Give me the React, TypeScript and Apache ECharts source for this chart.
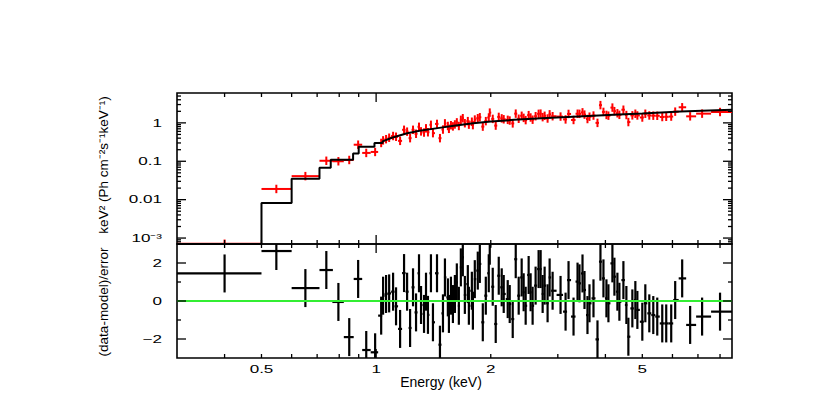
import React, { useEffect, useRef } from "react";
import * as echarts from "echarts";

const FONT = "'Liberation Sans', Arial, Helvetica, sans-serif";

// axis ranges
const X_MIN = 0.3;
const X_MAX = 8.6;
const Y_MIN = 7e-4;
const Y_MAX = 6;
const R_MIN = -3;
const R_MAX = 3;

// data points (bin centres, keV)
const energy = [
  0.4, 0.547, 0.652, 0.74, 0.796, 0.85, 0.897, 0.942, 0.994, 1.031,
  1.043, 1.062, 1.082, 1.108, 1.128, 1.156, 1.184, 1.206, 1.228, 1.25,
  1.273, 1.296, 1.312, 1.336, 1.352, 1.368, 1.393, 1.41, 1.445, 1.471,
  1.498, 1.516, 1.543, 1.553, 1.572, 1.591, 1.61, 1.629, 1.649, 1.669,
  1.689, 1.71, 1.741, 1.752, 1.784, 1.795, 1.816, 1.849, 1.872, 1.906,
  1.941, 1.976, 1.988, 2.024, 2.061, 2.099, 2.137, 2.163, 2.216, 2.243,
  2.284, 2.326, 2.368, 2.411, 2.44, 2.47, 2.515, 2.545, 2.576, 2.623,
  2.671, 2.704, 2.737, 2.77, 2.82, 2.855, 2.907, 3.05, 3.144, 3.201,
  3.299, 3.38, 3.42, 3.483, 3.525, 3.589, 3.633, 3.722, 3.813, 3.882,
  3.953, 4.025, 4.074, 4.173, 4.224, 4.301, 4.353, 4.46, 4.541, 4.596,
  4.708, 4.794, 4.853, 5.0, 5.092, 5.216, 5.343, 5.473, 5.641, 5.778,
  5.955, 6.1, 6.363, 6.677, 7.178, 8.0,
];

// keV^2 (Ph cm^-2 s^-1 keV^-1)
const flux = [
  7.1e-4, 0.019, 0.041, 0.103, 0.1, 0.108, 0.27, 0.165, 0.175, 0.3,
  0.35, 0.376, 0.41, 0.455, 0.435, 0.34, 0.66, 0.59, 0.4, 0.66,
  0.52, 0.79, 0.6, 0.56, 0.72, 0.57, 0.89, 0.54, 0.94, 0.4,
  0.67, 0.97, 0.83, 0.7, 0.87, 0.81, 0.91, 1.03, 0.83, 1.2,
  1.32, 0.98, 1.11, 0.9, 1.07, 0.875, 1.22, 1.32, 1.4, 0.8,
  1.11, 1.38, 1.85, 1.27, 0.85, 1.43, 1.31, 1.24, 1.2, 1.15,
  0.97, 1.74, 1.28, 1.53, 1.35, 1.18, 1.59, 1.38, 1.21, 1.49,
  1.72, 1.74, 1.41, 1.53, 1.3, 1.67, 1.49, 1.46, 1.23, 1.71,
  1.19, 1.73, 1.72, 1.88, 1.64, 1.26, 1.45, 1.55, 1.0, 2.9,
  1.93, 1.61, 1.54, 2.5, 2.02, 1.78, 1.62, 2.2, 1.6, 1.05,
  1.57, 1.73, 1.56, 1.38, 1.73, 1.56, 1.54, 1.53, 1.42, 1.44,
  1.46, 1.96, 2.55, 1.48, 1.74, 1.92,
];

// (data-model)/error
const resid = [
  1.45, 2.63, 0.68, 1.63, -0.05, -1.9, 1.16, -2.58, -2.7, -0.77,
  0.28, 0.37, 0.4, 0.49, -0.28, -1.47, 1.47, 0.49, -1.42, 0.72,
  -0.6, 1.46, -0.21, -0.68, 0.49, -0.73, 1.46, -1.12, 1.46, -2.3,
  -0.65, 1.24, 0.19, -0.68, 0.28, -0.16, 0.37, 0.98, -0.25, 1.77,
  2.3, 0.32, 0.89, -0.25, 0.54, -0.51, 1.15, 1.6, 1.95, -1.12,
  0.28, 1.46, 2.91, 0.75, -1.21, 1.33, 0.72, 0.37, 0.1, -0.16,
  -0.95, 2.2, 0.28, 1.24, 0.46, -0.25, 1.37, 0.46, -0.25, 0.81,
  1.68, 1.68, 0.37, 0.81, -0.12, 1.24, 0.54, 0.32, -0.56, 1.1,
  -0.82, 1.02, 0.93, 1.45, 0.58, -0.74, -0.12, 0.14, -2.02, 2.07,
  1.19, 0.14, -0.12, 1.98, 1.28, 0.49, -0.04, 1.1, -0.21, -1.88,
  -0.39, 0.05, -0.47, -1.09, -0.12, -0.65, -0.74, -0.82, -1.18, -1.18,
  -1.18, 0.05, 1.19, -1.26, -0.82, -0.56,
];
const residErr = 1;
const fluxErrDex = 0.11;
// explicit bin edges for the widest low-energy bins
const fixedEdges = [0.3, 0.5, 0.6, 0.71, 0.77];

// model: low-energy step bins, then the smooth continuum
const modelBinEdges = [0.3, 0.5, 0.6, 0.71, 0.76, 0.87, 0.9, 0.99, 1.04];
const modelBinValues = [7e-4, 0.0082, 0.035, 0.068, 0.11, 0.16, 0.24, 0.3];
const modelCurveE = [1.04, 1.1, 1.2, 1.3, 1.45, 1.6, 1.8, 2.0, 2.3, 2.8, 3.5, 4.2, 5.0, 6.3, 7.5, 8.6];
const modelCurveV = [0.33, 0.41, 0.53, 0.62, 0.73, 0.84, 0.98, 1.08, 1.2, 1.33, 1.48, 1.62, 1.76, 1.97, 2.1, 2.2];

// ticks and labels
const xMajorTicks = [1];
const xMinorTicks = [0.4, 0.5, 0.6, 0.7, 0.8, 0.9, 2, 3, 4, 5, 6, 7, 8];
const xLabelValues = [0.5, 1, 2, 5];
const xLabelTexts = ["0.5", "1", "2", "5"];
const yTopMajorTicks = [0.001, 0.01, 0.1, 1];
const yTopMinorTicks = [
  8e-4, 9e-4, 0.002, 0.003, 0.004, 0.005, 0.006, 0.007, 0.008, 0.009,
  0.02, 0.03, 0.04, 0.05, 0.06, 0.07, 0.08, 0.09,
  0.2, 0.3, 0.4, 0.5, 0.6, 0.7, 0.8, 0.9, 2, 3, 4, 5,
];
const yTopLabelValues = [1, 0.1, 0.01, 0.001];
const yTopLabelTexts = ["1", "0.1", "0.01", "10\u207B\u00B3"];
const yResMajorTicks = [-2, 0, 2];
const yResMinorTicks = [-1, 1];
const yResLabelValues = [2, 0, -2];
const yResLabelTexts = ["2", "0", "\u22122"];

const yTopName = "keV\u00B2 (Ph cm\u207B\u00B2s\u207B\u00B9keV\u207B\u00B9)";
const yResName = "(data-model)/error";
const xName = "Energy (keV)";

function binEdges(i: number): [number, number] {
  const n = energy.length;
  const fixedN = fixedEdges.length - 1;
  const lo = i < fixedN ? fixedEdges[i] : Math.sqrt(energy[i - 1] * energy[i]);
  const hi = i < fixedN ? fixedEdges[i + 1] : i === n - 1 ? X_MAX : Math.sqrt(energy[i] * energy[i + 1]);
  return [lo, hi];
}

function crossSeries(gridIdx: number, data: number[][], color: string, z: number, width: number) {
  return {
    type: "custom",
    xAxisIndex: gridIdx,
    yAxisIndex: gridIdx,
    silent: true,
    clip: true,
    z,
    encode: { x: [0, 1, 2], y: [3, 4, 5] },
    data,
    renderItem: (params: any, api: any) => {
      const a = api.coord([api.value(0), api.value(3)]);
      const b = api.coord([api.value(1), api.value(3)]);
      const c = api.coord([api.value(2), api.value(4)]);
      const d = api.coord([api.value(2), api.value(5)]);
      const st = { stroke: color, lineWidth: width };
      return {
        type: "group",
        children: [
          { type: "line", shape: { x1: a[0], y1: a[1], x2: b[0], y2: b[1] }, style: st },
          { type: "line", shape: { x1: c[0], y1: c[1], x2: d[0], y2: d[1] }, style: st },
        ],
      };
    },
  };
}

function tickSeries(gridIdx: number, items: number[][]) {
  return {
    type: "custom",
    xAxisIndex: gridIdx,
    yAxisIndex: gridIdx,
    silent: true,
    z: 20,
    encode: { x: 0, y: 1 },
    data: items,
    renderItem: (params: any, api: any) => {
      const cs = params.coordSys;
      const p = api.coord([api.value(0), api.value(1)]);
      const len = api.value(2);
      const dir = api.value(3);
      const st = { stroke: "#000", lineWidth: 1.3 };
      if (dir === 0) {
        const yb = cs.y + cs.height;
        const yt = cs.y;
        return {
          type: "group",
          children: [
            { type: "line", shape: { x1: p[0], y1: yb, x2: p[0], y2: yb - len }, style: st },
            { type: "line", shape: { x1: p[0], y1: yt, x2: p[0], y2: yt + len }, style: st },
          ],
        };
      }
      const xl = cs.x;
      const xr = cs.x + cs.width;
      return {
        type: "group",
        children: [
          { type: "line", shape: { x1: xl, y1: p[1], x2: xl + len, y2: p[1] }, style: st },
          { type: "line", shape: { x1: xr, y1: p[1], x2: xr - len, y2: p[1] }, style: st },
        ],
      };
    },
  };
}

function labelSeries(gridIdx: number, values: number[], texts: string[], kind: "x" | "y", anchor: number) {
  return {
    type: "custom",
    xAxisIndex: gridIdx,
    yAxisIndex: gridIdx,
    silent: true,
    z: 20,
    encode: { x: 0, y: 1 },
    data: values.map((v, i) => (kind === "x" ? [v, anchor, i] : [anchor, v, i])),
    renderItem: (params: any, api: any) => {
      const cs = params.coordSys;
      const p = api.coord([api.value(0), api.value(1)]);
      const t = texts[api.value(2)];
      const style = { text: t, fontSize: 11, fontFamily: FONT, fill: "#000" };
      if (kind === "x") {
        return {
          type: "text",
          x: p[0],
          y: cs.y + cs.height + 11,
          scaleX: 1.55,
          style: { ...style, align: "center", verticalAlign: "middle" },
        };
      }
      return {
        type: "text",
        x: cs.x - 15,
        y: p[1],
        scaleX: 1.55,
        style: { ...style, align: "right", verticalAlign: "middle" },
      };
    },
  };
}

export default function App() {
  const ref = useRef<HTMLDivElement>(null);
  useEffect(() => {
    if (!ref.current) return;
    const chart = echarts.init(ref.current, undefined, { renderer: "svg" });

    const topData = energy.map((e, i) => {
      const [lo, hi] = binEdges(i);
      const f = flux[i];
      const k = Math.pow(10, fluxErrDex);
      return [lo, hi, e, f, f / k, f * k];
    });
    const resData = energy.map((e, i) => {
      const [lo, hi] = binEdges(i);
      const r = resid[i];
      return [lo, hi, e, r, r - residErr, r + residErr];
    });

    const modelPts: number[][] = [];
    for (let i = 0; i < modelBinValues.length; i++) {
      modelPts.push([modelBinEdges[i], modelBinValues[i]]);
      modelPts.push([modelBinEdges[i + 1], modelBinValues[i]]);
    }
    modelCurveE.forEach((e, i) => modelPts.push([e, modelCurveV[i]]));

    const hiddenAxis = {
      axisLine: { show: false },
      axisTick: { show: false },
      axisLabel: { show: false },
      splitLine: { show: false },
    };

    const xTickItems = (y: number) => [
      ...xMajorTicks.map((e) => [e, y, 9, 0]),
      ...xMinorTicks.map((e) => [e, y, 4, 0]),
    ];

    chart.setOption({
      animation: false,
      backgroundColor: "#fff",
      grid: [
        { left: 177, right: 98, top: 93, height: 151, show: true, borderColor: "#000", borderWidth: 1.6 },
        { left: 177, right: 98, top: 244, height: 114, show: true, borderColor: "#000", borderWidth: 1.6 },
      ],
      xAxis: [
        { type: "log", logBase: 10, gridIndex: 0, min: X_MIN, max: X_MAX, ...hiddenAxis },
        { type: "log", logBase: 10, gridIndex: 1, min: X_MIN, max: X_MAX, ...hiddenAxis },
      ],
      yAxis: [
        { type: "log", logBase: 10, gridIndex: 0, min: Y_MIN, max: Y_MAX, ...hiddenAxis },
        { type: "value", gridIndex: 1, min: R_MIN, max: R_MAX, ...hiddenAxis },
      ],
      graphic: [
        {
          type: "text",
          x: 103,
          y: 165,
          rotation: Math.PI / 2,
          style: { text: yTopName, fontSize: 13.5, fontFamily: FONT, fill: "#000", align: "center", verticalAlign: "middle" },
        },
        {
          type: "text",
          x: 103,
          y: 302,
          rotation: Math.PI / 2,
          style: { text: yResName, fontSize: 13.5, fontFamily: FONT, fill: "#000", align: "center", verticalAlign: "middle" },
        },
        {
          type: "text",
          x: 441,
          y: 382,
          style: { text: xName, fontSize: 14, fontFamily: FONT, fill: "#000", align: "center", verticalAlign: "middle" },
        },
      ],
      series: [
        crossSeries(0, topData, "#ff0000", 2, 2),
        {
          type: "line",
          xAxisIndex: 0,
          yAxisIndex: 0,
          data: modelPts,
          showSymbol: false,
          silent: true,
          z: 3,
          lineStyle: { color: "#000", width: 2 },
        },
        crossSeries(1, resData, "#000", 2, 2.2),
        {
          type: "line",
          xAxisIndex: 1,
          yAxisIndex: 1,
          data: [
            [X_MIN, 0],
            [X_MAX, 0],
          ],
          showSymbol: false,
          silent: true,
          z: 4,
          lineStyle: { color: "#33ee33", width: 2 },
        },
        tickSeries(0, [
          ...xTickItems(1),
          ...yTopMajorTicks.map((v) => [1, v, 9, 1]),
          ...yTopMinorTicks.map((v) => [1, v, 4, 1]),
        ]),
        tickSeries(1, [
          ...xTickItems(0),
          ...yResMajorTicks.map((v) => [1, v, 9, 1]),
          ...yResMinorTicks.map((v) => [1, v, 4, 1]),
        ]),
        labelSeries(1, xLabelValues, xLabelTexts, "x", 0),
        labelSeries(0, yTopLabelValues, yTopLabelTexts, "y", 1),
        labelSeries(1, yResLabelValues, yResLabelTexts, "y", 1),
      ],
    });
    return () => chart.dispose();
  }, []);
  return (
    <div
      ref={ref}
      style={{ position: "fixed", left: 0, top: 0, width: 830, height: 414, background: "#fff" }}
    />
  );
}
